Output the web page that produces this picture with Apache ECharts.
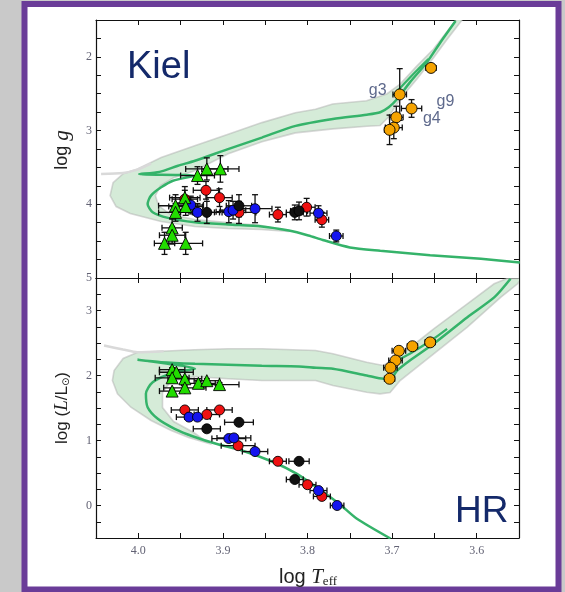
<!DOCTYPE html>
<html><head><meta charset="utf-8">
<script src="https://cdn.jsdelivr.net/npm/echarts@6/dist/echarts.min.js"></script>
<style>html,body{margin:0;padding:0;background:#c9c9c9}#c{width:565px;height:592px}</style>
</head><body><div id="c"></div><script>
// ---------- DATA ----------
// tick labels
var xTickLabels = [4.0, 3.9, 3.8, 3.7, 3.6];
var kielTickLabels = [2, 3, 4, 5];
var hrTickLabels = [0, 1, 2, 3];

// Kiel diagram points: [logTeff, logg, errLogTeff, errLogg]
var kielGreen = [[3.919,3.52,0.025,0.15],[3.903,3.52,0.022,0.18],[3.930,3.61,0.02,0.12],[3.945,3.91,0.018,0.15],[3.956,4.02,0.02,0.15],[3.944,4.03,0.02,0.12],[3.956,4.11,0.02,0.12],[3.960,4.32,0.012,0.12],[3.960,4.42,0.015,0.12],[3.969,4.53,0.012,0.15],[3.944,4.53,0.02,0.15]];
var kielRed = [[3.945,3.93,0.015,0.12],[3.920,3.81,0.015,0.12],[3.904,3.91,0.015,0.12],[3.881,4.11,0.02,0.15],[3.835,4.14,0.01,0.1],[3.801,4.04,0.01,0.12],[3.783,4.21,0.008,0.1]];
var kielBlue = [[3.938,4.01,0.015,0.12],[3.930,4.11,0.02,0.12],[3.893,4.10,0.015,0.15],[3.888,4.08,0.015,0.12],[3.862,4.06,0.02,0.19],[3.787,4.12,0.01,0.1],[3.766,4.43,0.008,0.08]];
var kielBlack = [[3.919,4.11,0.015,0.15],[3.881,4.02,0.015,0.15],[3.815,4.11,0.01,0.1],[3.810,4.09,0.01,0.12]];
var kielOrange = [[3.654,2.15,0.006,0.05],[3.691,2.51,0.008,0.35],[3.677,2.70,0.012,0.12],[3.695,2.82,0.008,0.15],[3.698,2.96,0.01,0.15],[3.703,2.99,0.006,0.2]];
var kielNotes = [['g3',3.717,2.46],['g9',3.637,2.61],['g4',3.653,2.84]];

// HR diagram points: [logTeff, logL, errLogTeff, errLogL]
var hrGreen = [[3.960,2.09,0.015,0.03],[3.955,2.05,0.02,0.03],[3.960,1.965,0.02,0.03],[3.945,1.95,0.02,0.03],[3.945,1.81,0.025,0.03],[3.960,1.76,0.015,0.03],[3.929,1.88,0.02,0.03],[3.919,1.92,0.015,0.03],[3.904,1.86,0.023,0.03]];
var hrRed = [[3.945,1.47,0.016,0.03],[3.919,1.40,0.015,0.03],[3.904,1.47,0.015,0.03],[3.882,0.92,0.02,0.03],[3.835,0.68,0.01,0.03],[3.800,0.32,0.01,0.03],[3.783,0.14,0.01,0.03]];
var hrBlue = [[3.940,1.36,0.015,0.03],[3.930,1.36,0.015,0.03],[3.893,1.03,0.02,0.03],[3.887,1.04,0.02,0.03],[3.862,0.83,0.015,0.03],[3.787,0.23,0.01,0.03],[3.765,0.00,0.008,0.03]];
var hrBlack = [[3.881,1.28,0.017,0.03],[3.919,1.18,0.016,0.03],[3.810,0.68,0.012,0.03],[3.815,0.40,0.01,0.03]];
var hrOrange = [[3.655,2.51,0.006,0.03],[3.676,2.45,0.006,0.03],[3.692,2.38,0.008,0.03],[3.696,2.23,0.008,0.03],[3.702,2.12,0.008,0.03],[3.703,1.95,0.006,0.03]];

// isochrone tracks
var kielTrack = [[3.549,4.79],[3.595,4.74],[3.655,4.69],[3.714,4.63],[3.750,4.585],[3.782,4.484],[3.799,4.423],[3.822,4.357],[3.854,4.301],[3.894,4.274],[3.933,4.243],[3.965,4.184],[3.983,4.108],[3.989,3.995],[3.985,3.882],[3.973,3.770],[3.959,3.680],[3.933,3.612],[3.999,3.590],[3.975,3.560],[3.953,3.477],[3.933,3.409],[3.894,3.251],[3.854,3.095],[3.814,2.936],[3.770,2.842],[3.730,2.784],[3.714,2.751],[3.704,2.684],[3.694,2.572],[3.679,2.346],[3.659,2.076],[3.643,1.805],[3.625,1.514]];
var kielTrack2 = [[3.699,2.527],[3.685,2.355],[3.669,2.166],[3.657,2.031]];
var hrTrack = [[3.702,-0.508],[3.742,-0.2],[3.762,0.02],[3.786,0.25],[3.813,0.49],[3.842,0.677],[3.881,0.862],[3.905,0.938],[3.935,1.062],[3.957,1.18],[3.977,1.334],[3.989,1.512],[3.991,1.718],[3.983,1.897],[3.957,2.051],[3.933,2.103],[4.001,2.242],[3.973,2.205],[3.933,2.180],[3.894,2.165],[3.854,2.149],[3.810,2.140],[3.790,2.118],[3.770,2.103],[3.730,2.0],[3.710,1.949],[3.702,1.949],[3.694,2.077],[3.679,2.231],[3.651,2.488],[3.611,2.897],[3.579,3.205],[3.560,3.488]];
var hrTrack2 = [[3.694,2.231],[3.679,2.334],[3.651,2.565],[3.635,2.718]];

// uncertainty bands (outline)
var kielBand = [[3.6238,1.491],[3.6512,1.896],[3.6706,2.122],[3.6905,2.369],[3.7063,2.504],[3.7301,2.595],[3.7702,2.639],[3.7905,2.711],[3.8143,2.757],[3.8539,2.892],[3.8937,3.049],[3.9333,3.207],[3.9730,3.365],[4.0008,3.522],[4.0179,3.585],[4.0298,3.707],[4.0333,3.882],[4.0262,4.031],[4.0095,4.126],[3.9730,4.234],[3.9333,4.301],[3.8940,4.328],[3.8548,4.342],[3.8214,4.369],[3.8548,4.288],[3.8940,4.247],[3.9333,4.207],[3.9619,4.139],[3.9762,4.018],[3.9798,3.882],[3.9738,3.747],[3.9583,3.639],[3.9333,3.545],[3.8937,3.315],[3.8539,3.153],[3.8143,3.031],[3.7699,2.977],[3.7301,2.941],[3.7143,2.932],[3.7044,2.819],[3.6905,2.572],[3.6706,2.301],[3.6508,2.008],[3.6349,1.761],[3.6167,1.491]];
var kielTail = [[4.044,3.589],[4.018,3.575],[4.001,3.53],[3.985,3.45]];
var hrBand = [[3.5643,3.492],[3.5794,3.411],[3.6111,3.103],[3.6508,2.718],[3.6905,2.308],[3.7104,2.154],[3.7301,2.205],[3.7699,2.334],[3.7905,2.385],[3.8539,2.411],[3.8937,2.411],[3.9333,2.395],[3.9730,2.374],[4.0008,2.358],[4.0179,2.262],[4.0286,2.077],[4.0306,1.923],[4.0246,1.718],[4.0087,1.512],[3.9849,1.308],[3.9611,1.154],[3.9405,1.046],[3.9167,0.954],[3.9345,1.123],[3.9583,1.292],[3.9714,1.508],[3.9714,1.738],[3.9619,1.908],[3.9333,1.985],[3.8937,1.949],[3.8539,1.923],[3.7905,1.923],[3.7699,1.846],[3.7301,1.743],[3.7143,1.718],[3.7024,1.738],[3.6905,1.923],[3.6508,2.334],[3.6111,2.743],[3.5714,3.205],[3.5516,3.411],[3.5476,3.492]];
var hrTail = [[4.0405,2.462],[4.018,2.40],[4.001,2.358],[3.97,2.374]];

// ---------- CHART ----------
var chart = echarts.init(document.getElementById('c'), null, {renderer:'canvas'});
var LINE_GREEN = '#35b36a', BAND = '#d5ebd8', TAIL = '#d9d9d9';
var labelFont = {fontFamily:'Liberation Serif', fontSize:12, color:'#626274'};

function xAx(grid, pos, showLabel){
  return {type:'value', gridIndex:grid, position:pos, min:3.55, max:4.05, interval:0.05, inverse:true,
    axisLine:{show:true, onZero:false, lineStyle:{color:'#111', width:1.2}},
    axisTick:{show:true, inside:true, length:5, lineStyle:{color:'#111', width:1}},
    splitLine:{show:false},
    axisLabel:{show:showLabel, margin:7, fontFamily:labelFont.fontFamily, fontSize:labelFont.fontSize, color:labelFont.color,
      formatter:function(v){ for(var i=0;i<xTickLabels.length;i++){ if(Math.abs(v-xTickLabels[i])<1e-6) return xTickLabels[i].toFixed(1);} return ''; }}
  };
}
function yAx(grid, pos, min, max, labels, inv){
  return {type:'value', gridIndex:grid, position:pos, min:min, max:max, interval:0.25, inverse:inv,
    axisLine:{show:true, onZero:false, lineStyle:{color:'#111', width:1.2}},
    axisTick:{show:true, inside:true, length:5, lineStyle:{color:'#111', width:1}},
    splitLine:{show:false},
    axisLabel:{show:!!labels, margin:4, fontFamily:labelFont.fontFamily, fontSize:labelFont.fontSize, color:labelFont.color,
      formatter:function(v){ if(!labels) return ''; for(var i=0;i<labels.length;i++){ if(Math.abs(v-labels[i])<1e-6) return String(labels[i]);} return ''; }}
  };
}
function errItem(params, api){
  var x=api.value(0), y=api.value(1), ex=api.value(2), ey=api.value(3);
  var st={stroke:'#111', lineWidth:1.3}, cap=3, ch=[];
  if(ex>0){
    var L=api.coord([x-ex,y]), R=api.coord([x+ex,y]);
    ch.push({type:'line', shape:{x1:L[0],y1:L[1],x2:R[0],y2:R[1]}, style:st});
    ch.push({type:'line', shape:{x1:L[0],y1:L[1]-cap,x2:L[0],y2:L[1]+cap}, style:st});
    ch.push({type:'line', shape:{x1:R[0],y1:R[1]-cap,x2:R[0],y2:R[1]+cap}, style:st});
  }
  if(ey>0){
    var T=api.coord([x,y-ey]), B=api.coord([x,y+ey]);
    ch.push({type:'line', shape:{x1:T[0],y1:T[1],x2:B[0],y2:B[1]}, style:st});
    ch.push({type:'line', shape:{x1:T[0]-cap,y1:T[1],x2:T[0]+cap,y2:T[1]}, style:st});
    ch.push({type:'line', shape:{x1:B[0]-cap,y1:B[1],x2:B[0]+cap,y2:B[1]}, style:st});
  }
  return {type:'group', children:ch};
}
function errSeries(data, ax){
  return {type:'custom', xAxisIndex:ax, yAxisIndex:ax, renderItem:errItem, data:data, encode:{x:0,y:1}, z:4, clip:true, silent:true};
}
function pts(data, ax, color, symbol, size){
  return {type:'scatter', xAxisIndex:ax, yAxisIndex:ax, data:data.map(function(d){return [d[0],d[1]];}),
    symbol:symbol, symbolSize:size, itemStyle:{color:color, borderColor:'#000', borderWidth:0.9, opacity:1}, z:6, silent:true};
}
function bandSeries(band, ax){
  return {type:'custom', xAxisIndex:ax, yAxisIndex:ax, data:[band[0]], encode:{x:0,y:1}, clip:true, z:1, silent:true,
    renderItem:function(params, api){
      return {type:'polygon', shape:{points:band.map(function(p){return api.coord(p);})},
        style:{fill:BAND, stroke:'rgba(175,175,175,0.5)', lineWidth:1.6}};
    }};
}
function trackSeries(data, ax, color, width, z){
  return {type:'line', xAxisIndex:ax, yAxisIndex:ax, data:data, showSymbol:false, smooth:0.25,
    lineStyle:{color:color, width:width}, z:z, silent:true, clip:true};
}

var option = {
  animation:false,
  backgroundColor:'#c9c9c9',
  grid:[
    {left:96, top:20, width:423, height:258, outerBoundsMode:'none', containLabel:false},
    {left:96, top:278, width:423, height:260, outerBoundsMode:'none', containLabel:false}
  ],
  xAxis:[ xAx(0,'bottom',false), xAx(0,'top',false), xAx(1,'bottom',true), xAx(1,'top',false) ],
  yAxis:[ yAx(0,'left',1.5,5,kielTickLabels,true), yAx(0,'right',1.5,5,null,true),
          yAx(1,'left',-0.5,3.5,hrTickLabels,false), yAx(1,'right',-0.5,3.5,null,false) ],
  graphic:[
    {type:'rect', z:-100, shape:{x:24.5, y:4, width:534, height:585.5}, style:{fill:'#ffffff', stroke:'#6a3c98', lineWidth:6}},
    {type:'text', z:100, x:127, y:68, style:{text:'Kiel', font:'38px "Liberation Sans"', fill:'#14296a', verticalAlign:'middle'}},
    {type:'text', z:100, x:455, y:512, style:{text:'HR', font:'37px "Liberation Sans"', fill:'#14296a', verticalAlign:'middle'}},
    {type:'text', z:100, x:62, y:150, rotation:Math.PI/2, style:{text:'{a|log }{b|g}', align:'center', verticalAlign:'middle',
      rich:{a:{fontFamily:'Liberation Sans', fontSize:18, fill:'#222'}, b:{fontFamily:'Liberation Serif', fontStyle:'italic', fontSize:21, fill:'#222'}}}},
    {type:'text', z:100, x:62, y:408, rotation:Math.PI/2, style:{text:'{a|log (}{b|L}{a|/L}{s|⊙}{a|)}', align:'center', verticalAlign:'middle',
      rich:{a:{fontFamily:'Liberation Sans', fontSize:17, fill:'#222'}, b:{fontFamily:'Liberation Serif', fontStyle:'italic', fontSize:19, fill:'#222'}, s:{fontFamily:'DejaVu Sans', fontSize:10, fill:'#222', padding:[9,0,0,0]}}}},
    {type:'text', z:100, x:308, y:577, style:{text:'{a|log }{t|T}{s|eff}', align:'center', verticalAlign:'middle',
      rich:{a:{fontFamily:'Liberation Sans', fontSize:20, fill:'#222'}, t:{fontFamily:'Liberation Serif', fontStyle:'italic', fontSize:21, fill:'#222'}, s:{fontFamily:'Liberation Serif', fontSize:13, fill:'#222', padding:[10,0,0,0]}}}}
  ],
  series:[
    bandSeries(kielBand, 0),
    trackSeries(kielTail, 0, TAIL, 2.5, 2),
    trackSeries(kielTrack, 0, LINE_GREEN, 2.5, 3),
    trackSeries(kielTrack2, 0, LINE_GREEN, 2.2, 3),
    errSeries(kielGreen, 0), errSeries(kielRed, 0), errSeries(kielBlue, 0), errSeries(kielBlack, 0), errSeries(kielOrange, 0),
    pts(kielRed, 0, '#ee1111', 'circle', 10),
    pts(kielBlue, 0, '#1414ee', 'circle', 10),
    pts(kielBlack, 0, '#111111', 'circle', 10),
    pts(kielGreen, 0, '#22dd00', 'triangle', 12),
    pts(kielOrange, 0, '#f5a300', 'circle', 11),
    {type:'scatter', xAxisIndex:0, yAxisIndex:0, data:kielNotes.map(function(n){return [n[1],n[2],n[0]];}), symbolSize:0, z:7, silent:true,
      label:{show:true, position:'inside', formatter:function(p){return p.data[2];}, fontFamily:'Liberation Sans', fontSize:16, color:'#36436f'}},
    bandSeries(hrBand, 2),
    trackSeries(hrTail, 2, TAIL, 2.5, 2),
    trackSeries(hrTrack, 2, LINE_GREEN, 2.5, 3),
    trackSeries(hrTrack2, 2, LINE_GREEN, 2.2, 3),
    errSeries(hrGreen, 2), errSeries(hrRed, 2), errSeries(hrBlue, 2), errSeries(hrBlack, 2), errSeries(hrOrange, 2),
    pts(hrRed, 2, '#ee1111', 'circle', 10),
    pts(hrBlue, 2, '#1414ee', 'circle', 10),
    pts(hrBlack, 2, '#111111', 'circle', 10),
    pts(hrGreen, 2, '#22dd00', 'triangle', 12),
    pts(hrOrange, 2, '#f5a300', 'circle', 11)
  ]
};
chart.setOption(option);
</script></body></html>
